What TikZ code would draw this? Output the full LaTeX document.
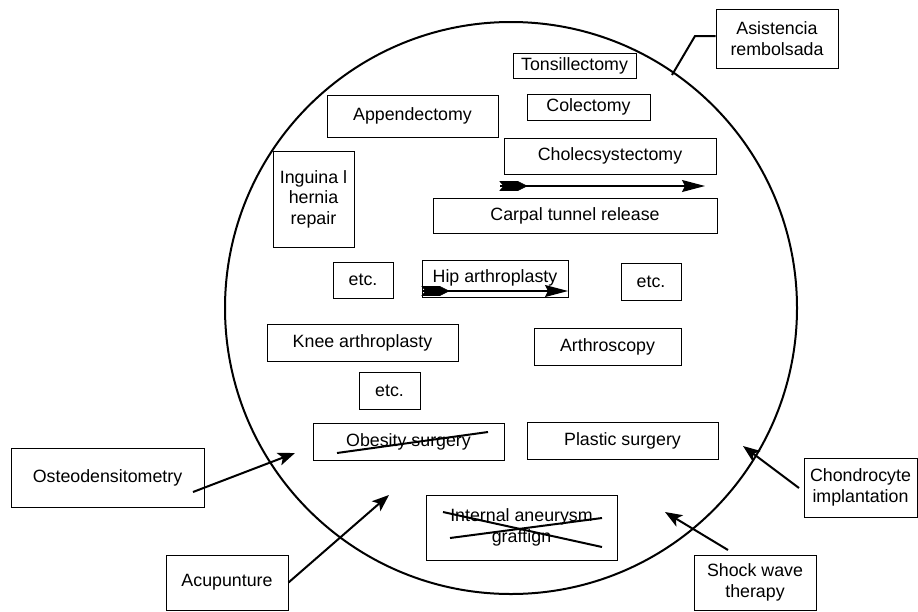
\documentclass[tikz,border=0pt]{standalone}
\usepackage{fontspec}
\setmainfont{Liberation Sans}
\usetikzlibrary{arrows.meta}
\begin{document}
\begin{tikzpicture}[x=1pt,y=-1pt,
  box/.style={draw=black, line width=1pt, inner sep=0pt, align=center,
    font=\fontsize{17.8}{20.5}\selectfont},
  ptr/.style={line width=2pt, -{Stealth[length=17pt,width=13pt,inset=4pt]}},
  strike/.style={line width=2pt},
  flow/.style={line width=1.3pt, -{Stealth[length=23pt,width=12pt,inset=3pt]}},
  tailmark/.style={fill=black, draw=black, line width=0.6pt, line join=miter}]
\useasboundingbox (0,0) rectangle (918,611);

% enclosing boundary
\draw[line width=2pt] (511,308) circle[radius=286pt];

% procedures inside the boundary
\node[box, minimum width=123pt, minimum height=25pt] (tons) at (574.5,65.5) {Tonsillectomy};
\node[box, minimum width=123pt, minimum height=26pt] (colec) at (588.5,107) {Colectomy};
\node[box, minimum width=171pt, minimum height=42pt] (append) at (412.5,116) {Appendectomy};
\node[box, minimum width=212pt, minimum height=36pt] (chol) at (610,156) {Cholecsystectomy};
\node[box, minimum width=284pt, minimum height=35pt] (carpal) at (575,215.5) {Carpal tunnel release};
\node[box, minimum width=81pt, minimum height=96pt] (ingui) at (313.5,199) {Inguina l\\hernia\\repair};
\node[box, minimum width=60pt, minimum height=36pt] (etcA) at (363,280) {etc.};
\node[box, minimum width=146pt, minimum height=37pt] (hip) at (495,278.5) {\raisebox{4pt}{Hip arthroplasty}};
\node[box, minimum width=60pt, minimum height=37pt] (etcB) at (651,281.5) {etc.};
\node[box, minimum width=191pt, minimum height=37pt] (knee) at (362.5,342.5) {Knee arthroplasty};
\node[box, minimum width=147pt, minimum height=37pt] (arthro) at (607.5,346.5) {Arthroscopy};
\node[box, minimum width=61pt, minimum height=37pt] (etcC) at (389.5,390.5) {etc.};
\node[box, minimum width=191pt, minimum height=37pt] (obes) at (408.5,441.5) {Obesity surgery};
\node[box, minimum width=191pt, minimum height=37pt] (plastic) at (622.5,440.5) {Plastic surgery};
\node[box, minimum width=191pt, minimum height=65pt] (aneur) at (521.5,527.5) {Internal aneurysm\\graftign};

% crossed-out entries
\draw[strike] (337,453) -- (488,432);
\draw[strike] (443,512) -- (602,547);
\draw[strike] (450,538) -- (602,518);

% flow arrows with a solid tail mark at the start
\coordinate (fa1) at (500,186);
\coordinate (fa2) at (705,186);
\draw[flow] (fa1) -- (fa2);
\path[tailmark, shift={(fa1)}] (0,-4.5) -- (18,-4.5) -- (27,0) -- (18,4.5) -- (0,4.5) -- (4,0) -- cycle;
\coordinate (fb1) at (422,291);
\coordinate (fb2) at (568,291);
\draw[flow] (fb1) -- (fb2);
\path[tailmark, shift={(fb1)}] (0,-4.5) -- (18,-4.5) -- (27,0) -- (18,4.5) -- (0,4.5) -- (4,0) -- cycle;

% items outside the boundary
\node[box, minimum width=122pt, minimum height=59pt] (asis) at (777,38.5) {Asistencia\\rembolsada};
\node[box, minimum width=193pt, minimum height=59pt] (osteo) at (107.5,477.5) {Osteodensitometry};
\node[box, minimum width=122pt, minimum height=55pt] (acup) at (227,582.5) {Acupunture};
\node[box, minimum width=113pt, minimum height=59pt] (chondro) at (860.5,487.5) {Chondrocyte\\implantation};
\node[box, minimum width=122pt, minimum height=55pt] (shock) at (755,582.5) {Shock wave\\therapy};

% callout to the boundary
\coordinate (rim) at (672,75);
\draw[line width=2pt] (asis.west |- 0,36) -- (695,36) -- (rim);

% arrows pointing into the boundary
\coordinate (tOsteo) at (295,453);
\coordinate (tAcup) at (389,495);
\coordinate (tChon) at (743,446);
\coordinate (tShock) at (665,512);
\draw[ptr] (193,492) -- (tOsteo);
\draw[ptr] (acup.east) -- (tAcup);
\draw[ptr] (799,488) -- (tChon);
\draw[ptr] (728,550) -- (tShock);
\end{tikzpicture}
\end{document}
